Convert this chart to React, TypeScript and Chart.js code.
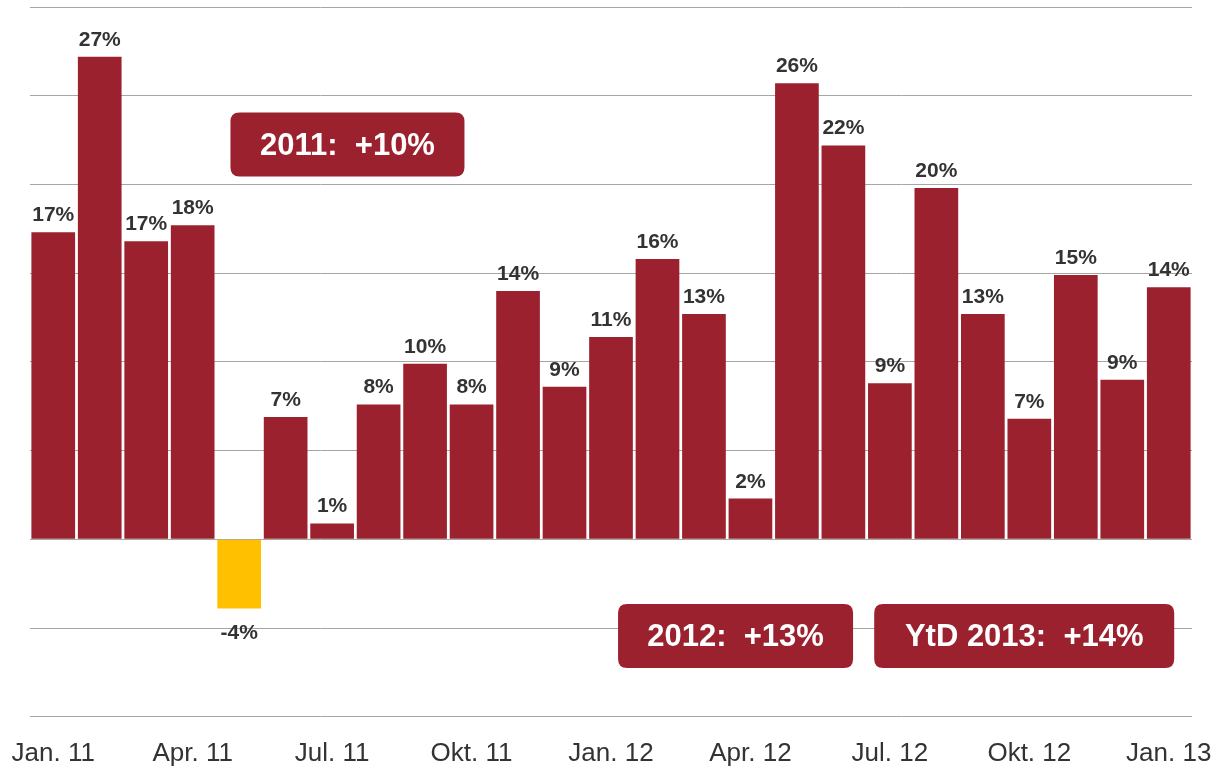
import React, { useEffect, useRef } from "react";
import { Chart, registerables } from "chart.js";

Chart.register(...registerables);

const months = [
  "Jan. 11", "Feb. 11", "Mär. 11", "Apr. 11", "Mai 11", "Jun. 11", "Jul. 11", "Aug. 11", "Sep. 11",
  "Okt. 11", "Nov. 11", "Dez. 11", "Jan. 12", "Feb. 12", "Mär. 12", "Apr. 12", "Mai 12", "Jun. 12",
  "Jul. 12", "Aug. 12", "Sep. 12", "Okt. 12", "Nov. 12", "Dez. 12", "Jan. 13",
];
const values = [
  17.3, 27.2, 16.8, 17.7, -3.9, 6.9, 0.9, 7.6, 9.9, 7.6, 14.0, 8.6, 11.4,
  15.8, 12.7, 2.3, 25.7, 22.2, 8.8, 19.8, 12.7, 6.8, 14.9, 9.0, 14.2,
];
const shownTickEvery = 3;

const noteTexts = ["2011:  +10%", "2012:  +13%", "YtD 2013:  +14%"];
const noteIndex = [6.33, 14.68, 20.89];
const noteValue = [22.25, -5.44, -5.44];
const noteWidths = [234, 235, 300];

const RED = "#9B212E";
const GOLD = "#FFC000";
const FONT = "\"Liberation Sans\", Arial, sans-serif";

function roundRect(ctx: CanvasRenderingContext2D, x: number, y: number, w: number, h: number, r: number) {
  ctx.beginPath();
  ctx.moveTo(x + r, y);
  ctx.lineTo(x + w - r, y);
  ctx.quadraticCurveTo(x + w, y, x + w, y + r);
  ctx.lineTo(x + w, y + h - r);
  ctx.quadraticCurveTo(x + w, y + h, x + w - r, y + h);
  ctx.lineTo(x + r, y + h);
  ctx.quadraticCurveTo(x, y + h, x, y + h - r);
  ctx.lineTo(x, y + r);
  ctx.quadraticCurveTo(x, y, x + r, y);
  ctx.closePath();
}

const labelPlugin = {
  id: "barLabels",
  afterDatasetsDraw(chart: any) {
    const ctx = chart.ctx as CanvasRenderingContext2D;
    const meta = chart.getDatasetMeta(0);
    ctx.save();
    ctx.font = `bold 21px ${FONT}`;
    ctx.fillStyle = "#333333";
    ctx.textAlign = "center";
    ctx.textBaseline = "alphabetic";
    meta.data.forEach((bar: any, i: number) => {
      const v = values[i];
      const txt = Math.round(v) + "%";
      if (v >= 0) {
        ctx.fillText(txt, bar.x, bar.y - 11);
      } else {
        ctx.fillText(txt, bar.x, bar.y + 30);
      }
    });
    ctx.restore();
  },
  afterDraw(chart: any) {
    const ctx = chart.ctx as CanvasRenderingContext2D;
    const xs = chart.scales.x;
    const ys = chart.scales.y;
    const step = xs.getPixelForValue(1) - xs.getPixelForValue(0);
    ctx.save();
    noteTexts.forEach((t, i) => {
      const cx = xs.getPixelForValue(0) + noteIndex[i] * step;
      const cy = ys.getPixelForValue(noteValue[i]);
      const w = noteWidths[i];
      const h = 64;
      ctx.fillStyle = RED;
      roundRect(ctx, cx - w / 2, cy - h / 2, w, h, 9);
      ctx.fill();
      ctx.fillStyle = "#FFFFFF";
      ctx.font = `bold 31px ${FONT}`;
      ctx.textAlign = "center";
      ctx.textBaseline = "middle";
      ctx.fillText(t, cx, cy + 2);
    });
    ctx.restore();
  },
};

export default function App() {
  const ref = useRef<HTMLCanvasElement | null>(null);
  useEffect(() => {
    if (!ref.current) return;
    const chart = new Chart(ref.current, {
      type: "bar",
      data: {
        labels: months,
        datasets: [
          {
            data: values,
            backgroundColor: values.map((v) => (v < 0 ? GOLD : RED)),
            borderWidth: 0,
            barPercentage: 0.94,
            categoryPercentage: 1,
          },
        ],
      },
      options: {
        animation: false,
        responsive: false,
        maintainAspectRatio: false,
        layout: { padding: { left: 30, right: 27, top: 7, bottom: 0 } },
        plugins: { legend: { display: false }, tooltip: { enabled: false } },
        scales: {
          x: {
            grid: { display: false, drawTicks: false },
            border: { display: false },
            afterFit: (scale: any) => {
              scale.paddingLeft = 0;
              scale.paddingRight = 0;
            },
            ticks: {
              autoSkip: false,
              maxRotation: 0,
              minRotation: 0,
              padding: 21,
              color: "#333333",
              font: { family: FONT, size: 26 },
              callback: (_v: any, i: number) => (i % shownTickEvery === 0 ? months[i] : ""),
            },
          },
          y: {
            min: -10,
            max: 30,
            ticks: { display: false, stepSize: 5 },
            grid: { color: "#A6A6A6", lineWidth: 1, drawTicks: false },
            border: { display: false },
          },
        },
      },
      plugins: [labelPlugin],
    });
    return () => chart.destroy();
  }, []);
  return (
    <div style={{ position: "fixed", left: 0, top: 0, width: 1219, height: 769, overflow: "hidden", background: "#fff" }}>
      <canvas ref={ref} width={1219} height={790} style={{ display: "block" }} />
    </div>
  );
}
